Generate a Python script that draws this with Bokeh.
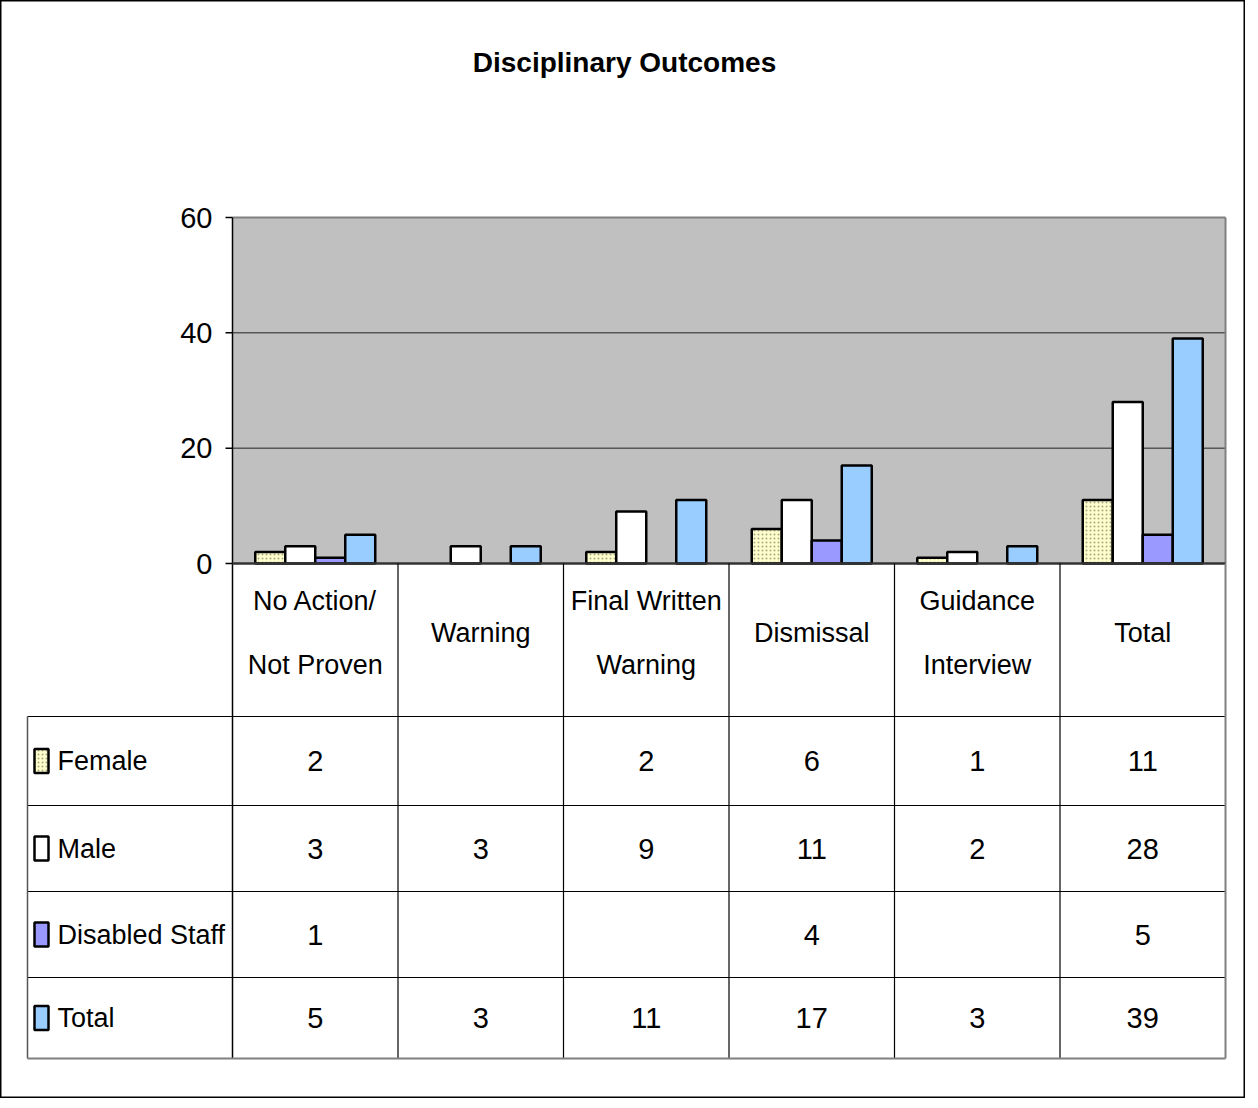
from bokeh.plotting import figure
from bokeh.models import Range1d
from bokeh.core.properties import value
from bokeh.embed import file_html
from bokeh.resources import INLINE

# ---------------- data ----------------
title = "Disciplinary Outcomes"
categories = ["No Action/\nNot Proven", "Warning", "Final Written\nWarning",
              "Dismissal", "Guidance\nInterview", "Total"]
series_names = ["Female", "Male", "Disabled Staff", "Total"]
female = [2, None, 2, 6, 1, 11]
male = [3, 3, 9, 11, 2, 28]
disabled = [1, None, None, 4, None, 5]
total = [5, 3, 11, 17, 3, 39]
y_ticks = [0, 20, 40, 60]
y_max = 60

series_values = [female, male, disabled, total]
colors = ["#FFFFCC", "#FFFFFF", "#9999FF", "#99CCFF"]

# ---------------- layout (window pixels) ----------------
FONT = "Liberation Sans"
FIG_L, FIG_T, W, H = 8, 8, 1245, 1098
CHART_L, CHART_R, CHART_T, CHART_B = 240, 1233, 225, 571
TABLE_L, HEADER_B = 35, 724
ROW_B = [813, 899, 985, 1066]
HEADER_C, HEADER_LH = 640, 64
BAR_PX = 30

n = len(categories)
xu = (CHART_R - CHART_L) / n
yu = (CHART_B - CHART_T) / y_max


def dx(wx):
    return (wx - CHART_L) / xu


def dy(wy):
    return (CHART_B - wy) / yu


p = figure(width=W, height=H, output_backend="svg", toolbar_location=None,
           x_range=Range1d(dx(FIG_L), dx(FIG_L + W)),
           y_range=Range1d(dy(FIG_T + H), dy(FIG_T)),
           x_axis_type=None, y_axis_type=None, min_border=0)
p.grid.visible = False
p.background_fill_color = "white"
p.border_fill_color = "white"
p.outline_line_color = "black"
p.outline_line_width = 2

txt = dict(text_font=value(FONT), text_color="black")

# title
p.text(x=[dx(632)], y=[dy(70)], text=[title], text_font_size="28px",
       text_font_style="bold", text_align="center", text_baseline="middle", **txt)

# plot area
p.quad(left=[0], right=[n], bottom=[0], top=[y_max], fill_color="#C0C0C0", line_color=None)
for t in y_ticks[1:-1]:
    p.segment(x0=[0], x1=[n], y0=[t], y1=[t], line_color="#222222", line_width=1)
p.segment(x0=[0, n], x1=[n, n], y0=[y_max, 0], y1=[y_max, y_max],
          line_color="#808080", line_width=2)

# bars
bw = BAR_PX / xu
for k, (vals, col) in enumerate(zip(series_values, colors)):
    off = (k - 1.5) * bw
    xs = [i + 0.5 + off for i, v in enumerate(vals) if v]
    tops = [v for v in vals if v]
    kw = {}
    if k == 0:
        kw = dict(hatch_pattern="dot", hatch_scale=4, hatch_color="#A8A888", hatch_weight=1)
    p.vbar(x=xs, top=tops, bottom=0, width=bw, fill_color=col,
           line_color="black", line_width=2.5, **kw)

# y axis
table_bottom = dy(ROW_B[-1])
p.segment(x0=[0], x1=[0], y0=[y_max], y1=[table_bottom], line_color="black", line_width=1.5)
p.segment(x0=[dx(CHART_L - 7)] * len(y_ticks), x1=[0] * len(y_ticks), y0=y_ticks, y1=y_ticks,
          line_color="black", line_width=1.5)
p.text(x=[dx(CHART_L - 20)] * len(y_ticks), y=y_ticks, text=[str(t) for t in y_ticks],
       text_font_size="29px", text_align="right", text_baseline="middle", **txt)
p.segment(x0=[0], x1=[n], y0=[0], y1=[0], line_color="#333333", line_width=2.5)

# data table grid
p.segment(x0=list(range(1, n)), x1=list(range(1, n)), y0=[0] * (n - 1), y1=[table_bottom] * (n - 1),
          line_color="black", line_width=1.2)
row_lines = [HEADER_B] + ROW_B[:-1]
p.segment(x0=[dx(TABLE_L)] * len(row_lines), x1=[n] * len(row_lines),
          y0=[dy(r) for r in row_lines], y1=[dy(r) for r in row_lines],
          line_color="black", line_width=1.2)
p.segment(x0=[dx(TABLE_L)], x1=[dx(TABLE_L)], y0=[dy(HEADER_B)], y1=[table_bottom],
          line_color="#555555", line_width=1.5)
p.segment(x0=[dx(TABLE_L), n], x1=[n, n], y0=[table_bottom, 0], y1=[table_bottom, table_bottom],
          line_color="#808080", line_width=2)

# header labels
hx, hy, ht = [], [], []
for i, c in enumerate(categories):
    lines = c.split("\n")
    for j, ln in enumerate(lines):
        hx.append(i + 0.5)
        hy.append(dy(HEADER_C + (j - (len(lines) - 1) / 2) * HEADER_LH))
        ht.append(ln)
p.text(x=hx, y=hy, text=ht, text_font_size="27px", text_align="center",
       text_baseline="middle", **txt)

# rows: legend keys, names, values
row_tops = [HEADER_B] + ROW_B[:-1]
row_c = [dy((a + b) / 2) for a, b in zip(row_tops, ROW_B)]
for k, (name, vals, col) in enumerate(zip(series_names, series_values, colors)):
    kw = {}
    if k == 0:
        kw = dict(hatch_pattern="dot", hatch_scale=4, hatch_color="#A8A888", hatch_weight=1)
    p.rect(x=[dx(49)], y=[row_c[k]], width=14 / xu, height=24 / yu, fill_color=col,
           line_color="black", line_width=2.5, **kw)
    p.text(x=[dx(65)], y=[row_c[k]], text=[name], text_font_size="27px",
           text_align="left", text_baseline="middle", **txt)
    xs = [i + 0.5 for i, v in enumerate(vals) if v]
    ts = [str(v) for v in vals if v]
    p.text(x=xs, y=[row_c[k]] * len(xs), text=ts, text_font_size="29px",
           text_align="center", text_baseline="middle", **txt)

open("out.html", "w").write(file_html(p, INLINE))
